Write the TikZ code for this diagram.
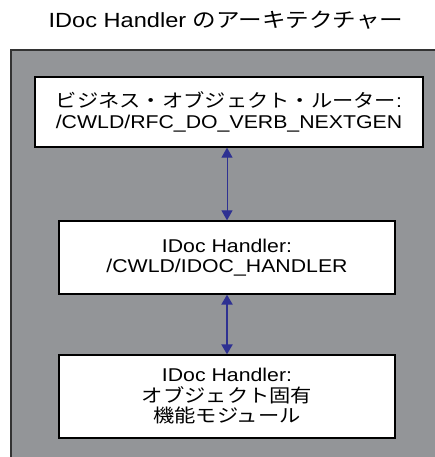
\documentclass[tikz,border=0pt]{standalone}
\usepackage{fontspec}
\setmainfont{Liberation Sans}[FakeStretch=1.15]
\newfontfamily\jpfont{Noto Sans CJK JP}[FakeStretch=1.15]
\usetikzlibrary{arrows.meta}
\definecolor{IDocGray}{RGB}{147,149,152}
\definecolor{IDocBlue}{RGB}{46,49,146}
\newcommand{\ja}[1]{{\jpfont #1}}

\tikzset{
  modbox/.style={draw=black,line width=1.3pt,fill=white,align=center,
    font=\fontsize{18.5}{20.5}\selectfont,inner sep=0pt},
  link/.style={draw=IDocBlue,{Triangle[width=11pt,length=10pt]}-{Triangle[width=11pt,length=10pt]}}
}

\begin{document}
\begin{tikzpicture}[x=1pt,y=-1pt]
\useasboundingbox (0,0) rectangle (435,457);
% background panel
\fill[IDocGray] (11,50) rectangle (435,457);
\draw[line width=1.2pt,black!80] (11,457) -- (11,50) -- (435,50);

\node[font=\fontsize{20.5}{24}\selectfont] (title) at (226,20) {IDoc Handler \ja{のアーキテクチャー}};

\node[modbox,minimum width=388pt,minimum height=70pt] (router) at (229,112)
  {\ja{ビジネス・オブジェクト・ルーター}:\\/CWLD/RFC\_DO\_VERB\_NEXTGEN};
\node[modbox,minimum width=336pt,minimum height=73pt] (handler) at (227,257.5)
  {IDoc Handler:\\/CWLD/IDOC\_HANDLER};
\node[modbox,minimum width=336pt,minimum height=83pt] (objfm) at (227,396.5)
  {IDoc Handler:\\\ja{オブジェクト固有}\\\ja{機能モジュール}};

\draw[link,line width=1pt] (handler.north |- router.south) -- (handler.north);
\draw[link,line width=2.2pt] (handler.south) -- (objfm.north);
\end{tikzpicture}
\end{document}
